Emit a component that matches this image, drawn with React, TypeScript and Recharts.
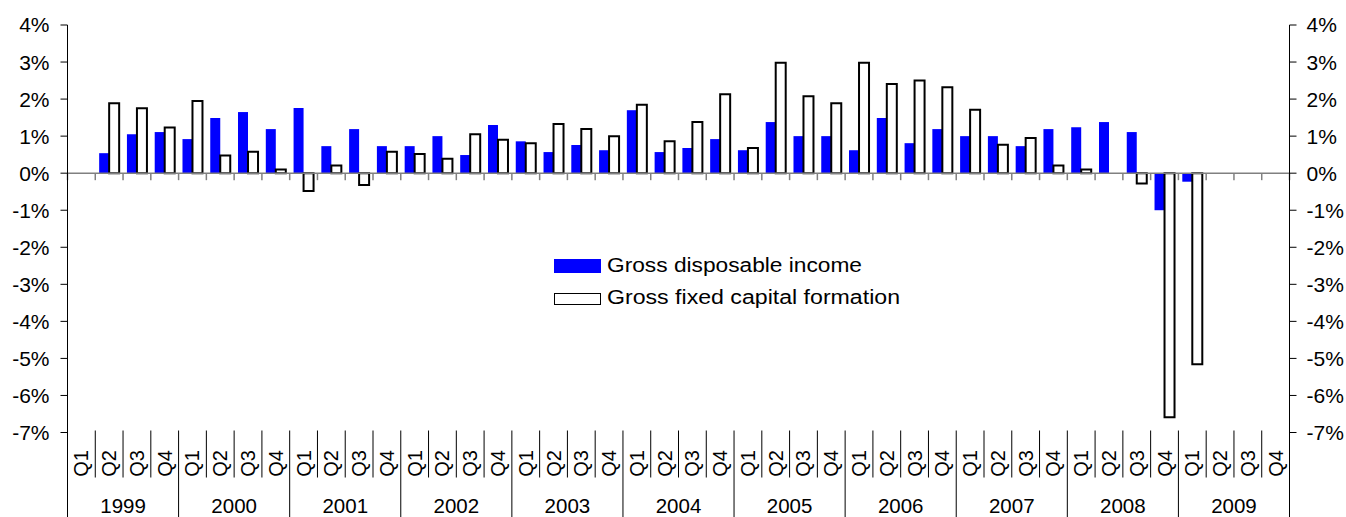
import { Bar, ComposedChart, Line, XAxis, YAxis, ReferenceLine, Legend } from 'recharts'

const years = ['1999', '2000', '2001', '2002', '2003', '2004', '2005', '2006', '2007', '2008', '2009']
const quarters = ['Q1', 'Q2', 'Q3', 'Q4']

// quarter-on-quarter change, %
const disposableIncome = [
  null, 0.54, 1.05, 1.11,
  0.92, 1.49, 1.65, 1.19,
  1.76, 0.73, 1.19, 0.73,
  0.73, 1.0, 0.49, 1.3,
  0.86, 0.57, 0.76, 0.62,
  1.7, 0.57, 0.68, 0.92,
  0.62, 1.38, 1.0, 1.0,
  0.62, 1.49, 0.81, 1.19,
  1.0, 1.0, 0.73, 1.19,
  1.24, 1.38, 1.11, -1.0,
  -0.23, null, null, null,
]
const capitalFormation = [
  null, 1.89, 1.75, 1.23,
  1.95, 0.48, 0.58, 0.1,
  -0.48, 0.21, -0.32, 0.58,
  0.52, 0.39, 1.05, 0.9,
  0.81, 1.33, 1.19, 1.0,
  1.85, 0.86, 1.38, 2.13,
  0.68, 2.98, 2.08, 1.89,
  2.98, 2.41, 2.5, 2.32,
  1.71, 0.77, 0.95, 0.21,
  0.1, null, -0.28, -6.59,
  -5.16, null, null, null,
]
const yTicks = [-7, -6, -5, -4, -3, -2, -1, 0, 1, 2, 3, 4]

const data = years.flatMap((year, yi) =>
  quarters.map((q, qi) => ({
    key: `${year}-${q}`,
    year,
    quarter: q,
    gdi: disposableIncome[yi * 4 + qi],
    gfcf: capitalFormation[yi * 4 + qi],
  })),
)

const FONT = '"Liberation Sans", Arial, sans-serif'
const W = 1346
const H = 517
const M = { top: 25, right: 6.5, bottom: 0, left: 7.5 }
const LEFT_W = 60
const RIGHT_W = 50
const PLOT_W = W - M.left - M.right - LEFT_W - RIGHT_W

function CategoryTick(props: any) {
  const { x, y, payload, index } = props
  const band = PLOT_W / data.length
  const half = band / 2
  const row = data[index]
  const lineX = x - half
  return (
    <g>
      <line x1={lineX} x2={lineX} y1={y - 2} y2={index % 4 === 0 ? H : y + 45} stroke="#000" strokeWidth={1} />
      {index === data.length - 1 && (
        <line x1={x + half} x2={x + half} y1={y - 2} y2={H} stroke="#000" strokeWidth={1} />
      )}
      <text
        x={x}
        y={y + 31}
        transform={`rotate(-90 ${x} ${y + 31})`}
        textAnchor="middle"
        dominantBaseline="central"
        style={{ fontFamily: FONT, fontSize: 20 }}
        fill="#000"
      >
        {row ? row.quarter : payload.value}
      </text>
      {index % 4 === 1 && (
        <text x={x + half} y={y + 80.5} textAnchor="middle" style={{ fontFamily: FONT, fontSize: 20.5 }} fill="#000">
          {row.year}
        </text>
      )}
    </g>
  )
}

function ZeroAxis(props: any) {
  const { x1, x2, y1 } = props
  const n = data.length
  const step = (x2 - x1) / n
  const ticks = Array.from({ length: n + 1 }, (_, i) => x1 + i * step)
  return (
    <g>
      <line x1={x1} x2={x2} y1={y1} y2={y1} stroke="#808080" strokeWidth={1.5} />
      {ticks.map((tx, i) => (
        <line key={i} x1={tx} x2={tx} y1={y1} y2={y1 + 7} stroke="#808080" strokeWidth={1.5} />
      ))}
    </g>
  )
}

function LegendBox() {
  return (
    <svg width={380} height={60} style={{ display: 'block', fontFamily: FONT }}>
      <rect x={0} y={7} width={47} height={14} fill="#0000ff" />
      <text x={53} y={19.5} fontSize={20} fill="#000" textLength={255} lengthAdjust="spacingAndGlyphs">
        Gross disposable income
      </text>
      <rect x={0.5} y={41.5} width={46} height={11} fill="#fff" stroke="#000" strokeWidth={1} />
      <text x={53} y={51.5} fontSize={20} fill="#000" textLength={293} lengthAdjust="spacingAndGlyphs">
        Gross fixed capital formation
      </text>
    </svg>
  )
}

const tickStyle = { fontSize: 21, fontFamily: FONT, fill: '#000' }

export default function App() {
  return (
    <div style={{ position: 'absolute', left: 0, top: 0, width: W, height: H, background: '#fff', fontFamily: FONT }}>
      <ComposedChart width={W} height={H} data={data} margin={M} barCategoryGap="14%" barGap={0}>
        <XAxis
          dataKey="key"
          interval={0}
          height={84.5}
          axisLine={false}
          tickLine={false}
          tickSize={0}
          tickMargin={0}
          tick={<CategoryTick />}
        />
        <YAxis
          yAxisId="left"
          width={LEFT_W}
          domain={[-7, 4]}
          ticks={yTicks}
          interval={0}
          tickFormatter={(v) => `${v}%`}
          axisLine={{ stroke: '#000', strokeWidth: 1 }}
          tickLine={{ stroke: '#000', strokeWidth: 1 }}
          tickSize={7}
          tickMargin={11}
          tick={tickStyle}
        />
        <YAxis
          yAxisId="right"
          orientation="right"
          width={RIGHT_W}
          domain={[-7, 4]}
          ticks={yTicks}
          interval={0}
          tickFormatter={(v) => `${v}%`}
          axisLine={{ stroke: '#000', strokeWidth: 1 }}
          tickLine={{ stroke: '#000', strokeWidth: 1 }}
          tickSize={7}
          tickMargin={10}
          tick={tickStyle}
        />
        <Bar yAxisId="left" dataKey="gdi" name="Gross disposable income" fill="#0000ff" isAnimationActive={false} />
        <Bar
          yAxisId="left"
          dataKey="gfcf"
          name="Gross fixed capital formation"
          fill="#ffffff"
          stroke="#000"
          strokeWidth={2}
          isAnimationActive={false}
        />
        {/* keeps the right-hand axis scaled; draws nothing */}
        <Line
          yAxisId="right"
          dataKey="gfcf"
          stroke="none"
          dot={false}
          activeDot={false}
          legendType="none"
          isAnimationActive={false}
        />
        <ReferenceLine yAxisId="left" y={0} shape={<ZeroAxis />} />
        <Legend
          layout="horizontal"
          verticalAlign="middle"
          align="center"
          wrapperStyle={{ left: 554, top: 252, width: 380, height: 60 }}
          content={() => <LegendBox />}
        />
      </ComposedChart>
    </div>
  )
}
